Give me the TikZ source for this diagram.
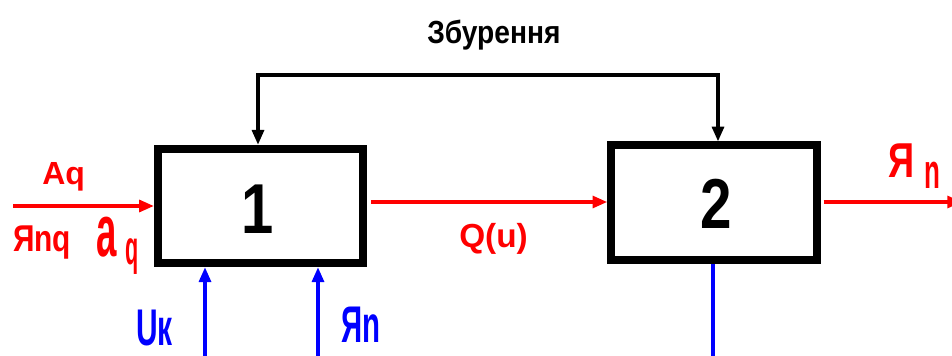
\documentclass[tikz,border=0pt]{standalone}
\usepackage{fontspec}
\setmainfont{Liberation Sans}
\usepackage{graphicx}
\usetikzlibrary{arrows.meta,positioning}
\definecolor{sigred}{HTML}{FF0000}
\definecolor{sigblue}{HTML}{0000FF}
\newcommand{\hsq}[2]{\scalebox{#1}[1]{#2}}
\newcommand{\fsz}[1]{\fontsize{#1}{#1}\selectfont\bfseries}

\begin{document}
\begin{tikzpicture}[
  x=0.75pt,y=-0.75pt,
  >={Triangle[length=11pt,width=9pt]},
  block/.style={draw=black,line width=6pt,minimum width=154pt,
                minimum height=86pt,inner sep=0pt,fill=white},
  lbl/.style={inner sep=0pt,anchor=base west},
  redflow/.style={->,line width=2.3pt,sigred},
  blueflow/.style={->,line width=2.3pt,sigblue},
  feed/.style={->,line width=2.3pt,black}
]
\useasboundingbox (0,0) rectangle (952,356);

\node[block] (b1) at (260.5,206) {};
\node[block,right=180pt of b1,yshift=2.5pt] (b2) {};
\node[lbl] (n1) at (241,233) {\fsz{53pt}\hsq{0.82}{1}};
\node[lbl] (n2) at (700,228) {\fsz{53pt}\hsq{0.8}{2}};

% disturbance
\node[lbl] (zb) at (427,44) {\fsz{24pt}\hsq{0.88}{Збурення}};
\coordinate (fbL) at (258,75);
\coordinate (fbR) at (718,75);
\draw[line width=2.3pt,line cap=rect] (fbL) -- (fbR);
\draw[feed] (fbL) -- (fbL |- b1.north);
\draw[feed] (fbR) -- (fbR |- b2.north);

% input
\coordinate (in) at (13,206);
\draw[redflow] (in) -- (b1.west |- in);
\node[lbl,text=sigred] (aq) at (42,184) {\fsz{24pt}Aq};
\node[lbl,text=sigred] (ynq) at (13,251) {\fsz{28pt}\hsq{0.8}{Яnq}};
\node[lbl,text=sigred] (abig) at (96,256) {\fsz{55pt}\hsq{0.5}{a}};
\node[lbl,text=sigred] (asub) at (125,264) {\fsz{36pt}\hsq{0.45}{q}};

% between blocks
\draw[redflow] (b1.east |- 0,202) ++(4,0) -- (b2.west |- 0,202);
\node[lbl,text=sigred] (qu) at (459,247) {\fsz{25pt}Q(u)};

% output
\coordinate (out) at (962,202);
\draw[redflow] (b2.east |- out) ++(3,0) -- (out);
\node[lbl,text=sigred] (yo) at (888,177) {\fsz{36.75pt}\hsq{0.74}{Я}};
\node[lbl,text=sigred] (no) at (924,188) {\fsz{36.75pt}\hsq{0.53}{n}};

% controls
\coordinate (uk) at (205,360);
\coordinate (yn) at (318,360);
\draw[blueflow] (uk) -- (uk |- b1.south);
\draw[blueflow] (yn) -- (yn |- b1.south);
\node[lbl,text=sigblue] (ukl) at (136,345) {\fsz{38.7pt}\hsq{0.58}{Uк}};
\node[lbl,text=sigblue] (ynl) at (341,342) {\fsz{38.7pt}\hsq{0.57}{Яn}};
\coordinate (b2o) at (713,360);
\draw[line width=2.3pt,sigblue] (b2.south -| b2o) -- (b2o);
\end{tikzpicture}
\end{document}
